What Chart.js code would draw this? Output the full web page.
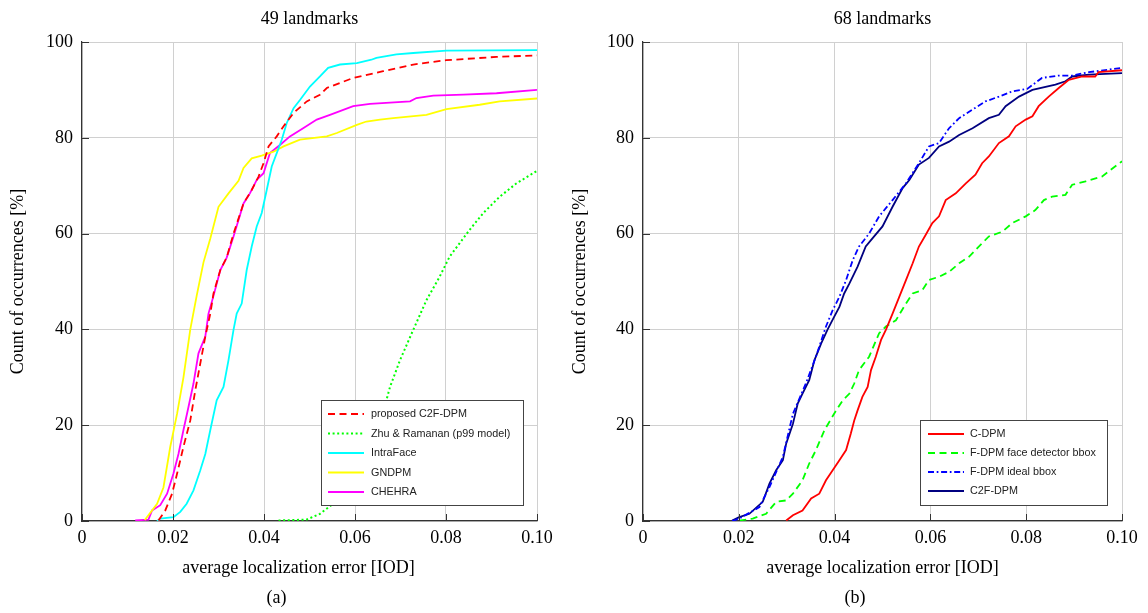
<!DOCTYPE html>
<html><head><meta charset="utf-8">
<script src="https://cdn.jsdelivr.net/npm/chart.js@4"></script>
<style>
html,body{margin:0;padding:0;background:#fff;width:1148px;height:613px;overflow:hidden}
canvas{position:absolute;top:0}
#c1{left:0}
#c2{left:560px}
</style></head><body>
<canvas id="c1" width="574" height="613"></canvas>
<canvas id="c2" width="588" height="613"></canvas>
<script>
// ---- tick labels ----
const xTicks = [0, 0.02, 0.04, 0.06, 0.08, 0.10];
const xTickLabels = ['0', '0.02', '0.04', '0.06', '0.08', '0.10'];
const yTicks = [0, 20, 40, 60, 80, 100];
const yTickLabels = ['0', '20', '40', '60', '80', '100'];
const xAxisTitle = 'average localization error [IOD]';
const yAxisTitle = 'Count of occurrences [%]';
const titleA = '49 landmarks', titleB = '68 landmarks';
const subA = '(a)', subB = '(b)';

// ---- (a) 49 landmarks ----
const propX49 = [0.0168,0.0183,0.0198,0.0209,0.0223,0.0238,0.0249,0.026,0.0271,0.0282,0.0289,0.0304,0.0318,0.0333,0.0355,0.0373,0.0388,0.0399,0.041,0.0428,0.0443,0.0465,0.0494,0.0523,0.0538,0.0596,0.0662,0.0728,0.0801,0.0911,0.1];
const propY49 = [0.1,2.2,5.7,9.9,15.5,21,27.3,32.9,38.5,43.3,47.5,52.4,55,60,66.3,69.1,71.9,74.7,78.2,80.3,82.4,85.2,87.6,89,90.4,92.5,93.9,95.3,96.2,96.9,97.2];
const zhuX = [0.0432,0.0494,0.0523,0.0552,0.0582,0.0618,0.0655,0.0677,0.0699,0.0728,0.0757,0.0786,0.0808,0.083,0.0852,0.0882,0.0918,0.0955,0.1];
const zhuY = [0.1,0.3,1.5,3.6,6.4,12,20.3,28,33.6,39.9,46.1,51,55.2,58,60.8,64.3,67.7,70.5,73.1];
const intraX = [0.0165,0.0172,0.0201,0.0216,0.023,0.0245,0.026,0.0271,0.0282,0.0296,0.0311,0.0322,0.0333,0.034,0.0351,0.0362,0.0373,0.0384,0.0395,0.0406,0.0417,0.0428,0.0439,0.045,0.0465,0.0479,0.0501,0.0523,0.0541,0.0567,0.0604,0.0636,0.0647,0.0691,0.0728,0.0801,0.1];
const intraY = [0,0.5,0.8,1.9,3.6,6.4,10.6,14,19,25.2,28,33.6,39.9,43.3,45.4,52.4,57.3,61.5,64.3,69.1,74,76.8,79.6,83.1,86.2,87.9,90.7,92.8,94.6,95.3,95.6,96.3,96.7,97.4,97.7,98.2,98.3];
const gndX = [0.0138,0.0165,0.0179,0.0194,0.0209,0.0223,0.0238,0.0252,0.0267,0.0282,0.03,0.0322,0.0344,0.0355,0.0373,0.0395,0.0421,0.0443,0.0479,0.0538,0.056,0.0604,0.0625,0.0655,0.0684,0.0757,0.0801,0.0874,0.0918,0.1];
const gndY = [0.2,3.6,7,15.5,22.4,30,40,47,54,59,65.6,68.4,71,73.7,75.7,76.3,77.1,78.2,79.6,80.3,81,82.7,83.4,83.8,84.1,84.8,86,86.9,87.6,88.2];
const chX = [0.0117,0.0146,0.0154,0.0172,0.0187,0.0201,0.0212,0.0223,0.0234,0.0245,0.0256,0.0271,0.0278,0.0289,0.0304,0.0318,0.0333,0.0355,0.0369,0.0384,0.0399,0.0413,0.0435,0.0457,0.0486,0.0516,0.0545,0.0596,0.0633,0.0721,0.0735,0.0772,0.0838,0.0911,0.1];
const chY = [0.1,0.3,2.2,3.3,5.7,9.9,14,19,23.8,28.7,35,38.5,43.3,47,52.4,55,59.4,66.3,68.4,71.2,72.6,76.8,78.5,80.3,82,83.8,84.8,86.6,87.1,87.6,88.3,88.8,89,89.3,90];

// ---- (b) 68 landmarks ----
const cdpmX = [0.0299,0.0313,0.0333,0.0351,0.0368,0.0382,0.0396,0.041,0.0424,0.0434,0.0441,0.0448,0.0458,0.0469,0.0476,0.0486,0.0497,0.0507,0.0521,0.0535,0.0549,0.0563,0.0576,0.059,0.0604,0.0618,0.0632,0.0653,0.0674,0.0694,0.0708,0.0722,0.0743,0.0764,0.0778,0.0799,0.0813,0.0826,0.0847,0.0868,0.0889,0.0917,0.0944,0.0951,0.1];
const cdpmY = [0.1,1.2,2.2,4.7,5.7,8.5,10.6,12.7,14.8,18.3,21,23.1,25.9,28,31.5,34.3,37.8,39.9,43.3,46.8,50.3,53.8,57.3,59.7,62.2,63.6,67,68.4,70.5,72.3,74.7,76.1,78.9,80.3,82.4,83.8,84.5,86.6,88.6,90.4,92.1,92.8,92.8,93.7,94.1];
const fdetX = [0.0201,0.0229,0.0257,0.0278,0.0299,0.0313,0.0333,0.0347,0.0361,0.0379,0.0399,0.0417,0.0431,0.0441,0.0451,0.0472,0.0493,0.0507,0.0528,0.0549,0.0563,0.0583,0.0597,0.0618,0.0639,0.066,0.0681,0.0701,0.0722,0.075,0.0771,0.0799,0.0819,0.0837,0.0854,0.0882,0.0896,0.0924,0.0958,0.1];
const fdetY = [0.1,0.5,1.5,4,4.3,5.7,8.5,12,14.8,19,22.4,25.2,26.6,28.7,31.5,34.3,39.2,40.6,41.9,45.4,47.5,48.2,50.3,51,52,53.8,55.2,57.3,59.4,60.4,62.2,63.6,64.9,67,67.7,68.1,70.2,70.9,71.9,75.1];
const fidealX = [0.0186,0.0201,0.0243,0.0264,0.0292,0.0313,0.034,0.0361,0.0382,0.0396,0.041,0.0424,0.0438,0.0451,0.0472,0.0493,0.0521,0.0549,0.0576,0.0597,0.0618,0.0639,0.066,0.0688,0.0715,0.0743,0.0771,0.0802,0.0833,0.0868,0.0896,0.0931,0.1];
const fidealY = [0,0.5,2.9,7.1,13.4,22.4,28.7,34.3,40.6,44,46.8,50.3,54.5,57.3,60,63.6,67,70.5,74.7,78.2,78.9,82,84.1,85.9,87.6,88.6,89.7,90.2,92.5,93,93,93.7,94.6];
const c2fX = [0.0186,0.0201,0.0222,0.025,0.0264,0.0278,0.0292,0.0299,0.0313,0.0323,0.0333,0.0347,0.0358,0.0372,0.0385,0.0399,0.041,0.042,0.0431,0.0448,0.0465,0.0479,0.05,0.0521,0.0542,0.0556,0.0576,0.0597,0.0618,0.0639,0.066,0.0688,0.0722,0.0743,0.0757,0.0785,0.0813,0.0861,0.0882,0.0896,0.0931,0.1];
const c2fY = [0.1,0.8,1.5,4,7.8,10.6,12.7,16.2,20.3,24.5,26.6,29.4,33.6,37.1,39.9,42.6,44.7,47.5,49.6,53.1,57.3,59,61.5,65.6,69.5,71.2,74.4,75.8,78.2,79.2,80.6,82,84.1,84.8,86.6,88.6,90,91.1,91.8,92.8,93.2,93.5];

const SERIF = '"Liberation Serif","Times New Roman",serif';
const SANS = '"Liberation Sans",Arial,sans-serif';

function pts(xs, ys) { return xs.map((x, i) => ({ x: x, y: ys[i] })); }
function ds(label, xs, ys, color, dash, width) {
  return { label: label, data: pts(xs, ys), borderColor: color, backgroundColor: color,
    borderDash: dash, borderWidth: width || 1.8, pointRadius: 0, showLine: true,
    fill: false, tension: 0 };
}

const decor = {
  id: 'decor',
  afterDraw(chart, args, opts) {
    const ctx = chart.ctx, a = chart.chartArea, xs = chart.scales.x, ys = chart.scales.y;
    ctx.save();
    // inward tick marks
    ctx.strokeStyle = '#333'; ctx.lineWidth = 1; ctx.setLineDash([]);
    ctx.beginPath();
    xTicks.forEach(v => { const px = Math.round(xs.getPixelForValue(v)) + 0.5; ctx.moveTo(px, a.bottom); ctx.lineTo(px, a.bottom - 7); });
    yTicks.forEach(v => { const py = Math.round(ys.getPixelForValue(v)) + 0.5; ctx.moveTo(a.left, py); ctx.lineTo(a.left + 7, py); });
    ctx.stroke();
    // legend
    const L = opts.legend;
    ctx.fillStyle = '#fff';
    ctx.fillRect(L.x, L.y, L.w, L.h);
    ctx.strokeStyle = '#444'; ctx.lineWidth = 1;
    ctx.strokeRect(L.x, L.y, L.w, L.h);
    ctx.font = '10.8px ' + SANS; ctx.textAlign = 'left'; ctx.textBaseline = 'middle';
    chart.data.datasets.forEach((d, i) => {
      const ry = L.rows[i];
      ctx.strokeStyle = d.borderColor; ctx.lineWidth = d.borderWidth;
      ctx.setLineDash(d.borderDash || []);
      ctx.beginPath(); ctx.moveTo(L.s0, ry); ctx.lineTo(L.s1, ry); ctx.stroke();
      ctx.setLineDash([]);
      ctx.fillStyle = '#222';
      ctx.fillText(d.label, L.tx, ry + 0.5);
    });
    // texts
    ctx.fillStyle = '#000'; ctx.font = '18px ' + SERIF; ctx.textAlign = 'center'; ctx.textBaseline = 'alphabetic';
    const cx = (a.left + a.right) / 2;
    ctx.fillText(opts.title, cx, 24);
    ctx.fillText(xAxisTitle, opts.xLabelX, 573);
    ctx.fillText(opts.sub, opts.subX, 603);
    ctx.translate(opts.yLabelX, (a.top + a.bottom) / 2);
    ctx.rotate(-Math.PI / 2);
    ctx.fillText(yAxisTitle, 0, 0);
    ctx.restore();
  }
};

function makeChart(id, datasets, cfg) {
  return new Chart(document.getElementById(id), {
    type: 'scatter',
    data: { datasets: datasets },
    options: {
      responsive: false, animation: false, devicePixelRatio: 1,
      layout: { padding: { left: 0, top: 42, right: cfg.padRight, bottom: 0 } },
      plugins: { legend: { display: false }, tooltip: { enabled: false }, title: { display: false }, decor: cfg.decor },
      scales: {
        x: {
          type: 'linear', min: 0, max: 0.1,
          afterFit(s) { s.height = 92; },
          afterBuildTicks(s) { s.ticks = xTicks.map(v => ({ value: v })); },
          grid: { color: '#d0d0d0', lineWidth: 1, drawTicks: false },
          border: { color: '#333', width: 1.2 },
          ticks: { padding: 6, color: '#000', font: { family: SERIF, size: 18 }, maxRotation: 0, autoSkip: false,
            callback: (v, i) => xTickLabels[i] }
        },
        y: {
          type: 'linear', min: 0, max: 100,
          afterFit(s) { s.width = cfg.yWidth; },
          afterBuildTicks(s) { s.ticks = yTicks.map(v => ({ value: v })); },
          grid: { color: '#d0d0d0', lineWidth: 1, drawTicks: false },
          border: { color: '#333', width: 1.2 },
          ticks: { padding: 9, color: '#000', font: { family: SERIF, size: 18 }, autoSkip: false,
            callback: (v, i) => yTickLabels[i] }
        }
      }
    },
    plugins: [decor]
  });
}

makeChart('c1', [
  ds('proposed C2F-DPM', propX49, propY49, '#ff0000', [7, 4.5]),
  ds('Zhu & Ramanan (p99 model)', zhuX, zhuY, '#00ff00', [2, 2.6], 2),
  ds('IntraFace', intraX, intraY, '#00ffff', []),
  ds('GNDPM', gndX, gndY, '#ffff00', []),
  ds('CHEHRA', chX, chY, '#ff00ff', [])
], {
  padRight: 37, yWidth: 82,
  decor: { title: titleA, sub: subA, yLabelX: 23, xLabelX: 298.5, subX: 276.5,
    legend: { x: 321.5, y: 400.5, w: 202, h: 105, rows: [414, 433.5, 453, 472.5, 492], s0: 328, s1: 364, tx: 371 } }
});

makeChart('c2', [
  ds('C-DPM', cdpmX, cdpmY, '#ff0000', []),
  ds('F-DPM face detector bbox', fdetX, fdetY, '#00ff00', [7, 4.5]),
  ds('F-DPM ideal bbox', fidealX, fidealY, '#0000ff', [6, 2.7, 1.7, 2.7]),
  ds('C2F-DPM', c2fX, c2fY, '#000080', [])
], {
  padRight: 26, yWidth: 83,
  decor: { title: titleB, sub: subB, yLabelX: 25, xLabelX: 322.5, subX: 295,
    legend: { x: 360.5, y: 420.5, w: 187, h: 85, rows: [434, 453, 472, 491], s0: 368, s1: 404, tx: 410 } }
});
</script>
</body></html>
